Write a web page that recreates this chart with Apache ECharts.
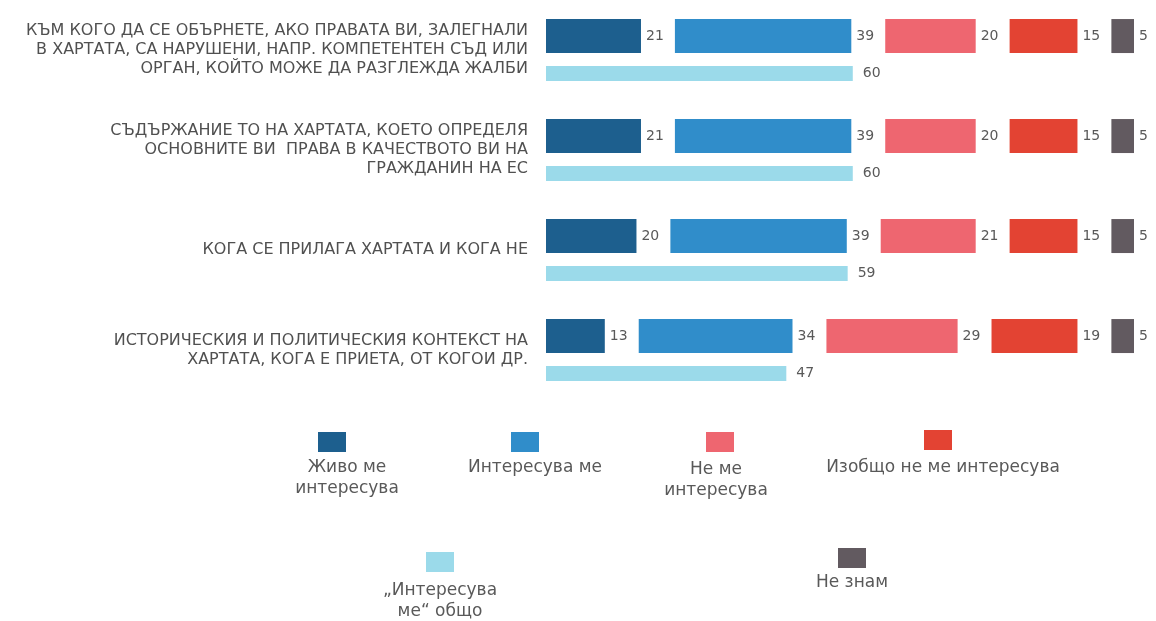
<!DOCTYPE html>
<html>
<head>
<meta charset="utf-8">
<script src="https://cdn.jsdelivr.net/npm/echarts@6/dist/echarts.min.js"></script>
<style>
  html, body { margin: 0; padding: 0; background: #fff; }
  #chart { width: 1156px; height: 621px; }
</style>
</head>
<body>
<div id="chart"></div>
<script>
const categories = [
  'КЪМ КОГО ДА СЕ ОБЪРНЕТЕ, АКО ПРАВАТА ВИ, ЗАЛЕГНАЛИ\nВ ХАРТАТА, СА НАРУШЕНИ, НАПР. КОМПЕТЕНТЕН СЪД ИЛИ\nОРГАН, КОЙТО МОЖЕ ДА РАЗГЛЕЖДА ЖАЛБИ',
  'СЪДЪРЖАНИЕ ТО НА ХАРТАТА, КОЕТО ОПРЕДЕЛЯ\nОСНОВНИТЕ ВИ  ПРАВА В КАЧЕСТВОТО ВИ НА\nГРАЖДАНИН НА ЕС',
  'КОГА СЕ ПРИЛАГА ХАРТАТА И КОГА НЕ',
  'ИСТОРИЧЕСКИЯ И ПОЛИТИЧЕСКИЯ КОНТЕКСТ НА\nХАРТАТА, КОГА Е ПРИЕТА, ОТ КОГОИ ДР.'
]
const seriesNames = ['Живо ме интересува', 'Интересува ме', 'Не ме интересува', 'Изобщо не ме интересува', 'Не знам']
const veryInterested = [21, 21, 20, 13]
const interested = [39, 39, 39, 34]
const notInterested = [20, 20, 21, 29]
const notAtAll = [15, 15, 15, 19]
const dontKnow = [5, 5, 5, 5]
const totalName = '„Интересува ме“ общо'
const totalInterested = [60, 60, 59, 47]

const colors = ['#1d5f8e', '#308dca', '#ee6670', '#e34333', '#625a60']
const totalColor = '#9bdaea'
const textColor = '#595959'
const GAP = 7.5

const values = [veryInterested, interested, notInterested, notAtAll, dontKnow]
const series = []
values.forEach((vals, i) => {
  if (i > 0) {
    // invisible spacer between the segments, holds the value label
    series.push({
      type: 'bar',
      stack: 'main',
      barWidth: 34,
      barGap: '38%',
      silent: true,
      itemStyle: { color: 'transparent' },
      data: categories.map(() => GAP)
    })
  }
  series.push({
    name: seriesNames[i],
    type: 'bar',
    stack: 'main',
    barWidth: 34,
    barGap: '38%',
    itemStyle: { color: colors[i] },
    label: {
      show: true,
      position: 'right',
      distance: 5,
      color: textColor,
      fontSize: 14,
      fontFamily: 'DejaVu Sans'
    },
    data: vals
  })
})
series.push({
  name: totalName,
  type: 'bar',
  xAxisIndex: 1,
  barWidth: 15,
  barGap: '38%',
  itemStyle: { color: totalColor },
  label: {
    show: true,
    position: 'right',
    distance: 10,
    color: textColor,
    fontSize: 14,
    fontFamily: 'DejaVu Sans'
  },
  data: totalInterested
})

// legend: swatch above the text, as in the original
const legendItems = [
  { text: 'Живо ме\nинтересува', color: colors[0], box: [318, 432], tx: 347, ty: 457 },
  { text: 'Интересува ме', color: colors[1], box: [511, 432], tx: 535, ty: 457 },
  { text: 'Не ме\nинтересува', color: colors[2], box: [706, 432], tx: 716, ty: 459 },
  { text: 'Изобщо не ме интересува', color: colors[3], box: [924, 430], tx: 943, ty: 457 },
  { text: '„Интересува\nме“ общо', color: totalColor, box: [426, 552], tx: 440, ty: 580 },
  { text: 'Не знам', color: colors[4], box: [838, 548], tx: 852, ty: 572 }
]
const graphic = []
legendItems.forEach(item => {
  graphic.push({
    type: 'rect',
    left: item.box[0],
    top: item.box[1],
    shape: { width: 28, height: 20 },
    style: { fill: item.color }
  })
  graphic.push({
    type: 'text',
    x: item.tx,
    y: item.ty,
    style: {
      text: item.text,
      fill: textColor,
      font: '17px "DejaVu Sans"',
      lineHeight: 21,
      align: 'center',
      verticalAlign: 'top'
    }
  })
})

const option = {
  animation: false,
  grid: {
    left: 546,
    right: 22,
    top: 0,
    height: 400
  },
  xAxis: [
    { type: 'value', min: 0, max: 130, show: false },
    { type: 'value', min: 0, max: 115, show: false }
  ],
  yAxis: {
    type: 'category',
    inverse: true,
    data: categories,
    axisLine: { show: false },
    axisTick: { show: false },
    axisLabel: {
      margin: 18,
      color: '#505050',
      fontSize: 16,
      lineHeight: 19,
      fontFamily: 'DejaVu Sans',
      align: 'right'
    }
  },
  graphic,
  series
}

const chart = echarts.init(document.getElementById('chart'))
chart.setOption(option)
</script>
</body>
</html>
